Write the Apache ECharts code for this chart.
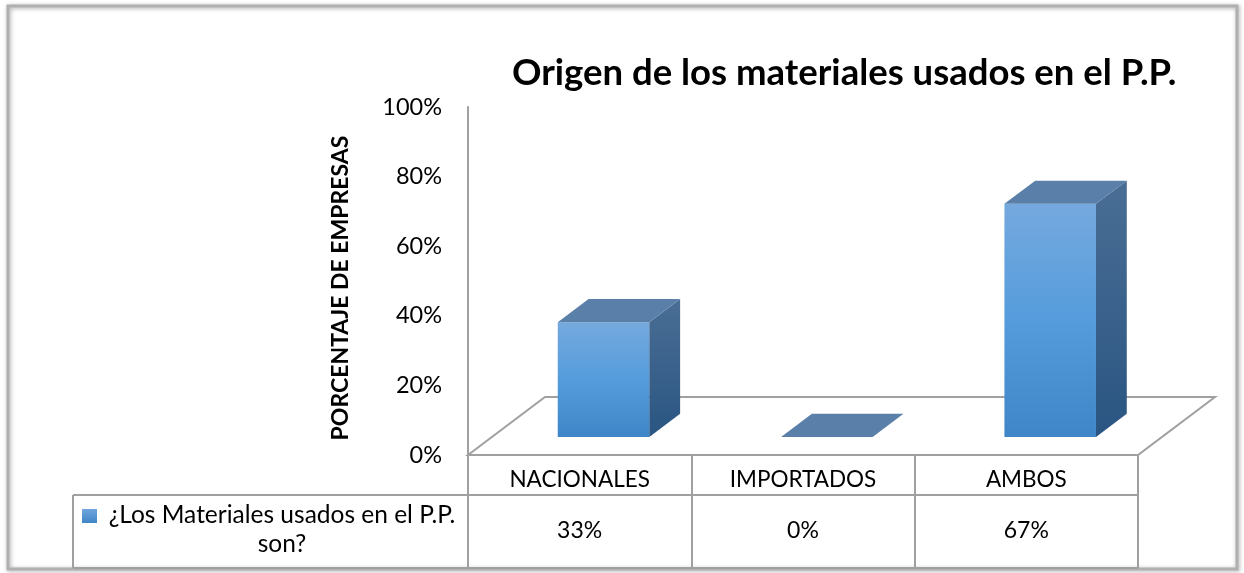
<!DOCTYPE html>
<html>
<head>
<meta charset="utf-8">
<script src="https://cdn.jsdelivr.net/npm/echarts@6/dist/echarts.min.js"></script>
<style>
  html, body { margin: 0; padding: 0; background: #fff; }
  #chart { width: 1244px; height: 573px; }
</style>
</head>
<body>
<div id="chart"></div>
<script>
var categories = ['NACIONALES', 'IMPORTADOS', 'AMBOS'];
var values = [33, 0, 67];
var valueLabels = ['33%', '0%', '67%'];
var seriesName = '¿Los Materiales usados en el P.P. son?';
var titleText = 'Origen de los materiales usados en el P.P.';
var yName = 'PORCENTAJE DE EMPRESAS';

var FONT = 'Lato, "Open Sans", sans-serif';
var LINE = '#a0a0a0';
// piso 3D (estilo Excel)
var FLOOR_DX = 77, FLOOR_DY = 58;
var BAR_T = 0.31, BAR_D = 0.4, BAR_W = 0.41;

var chart = echarts.init(document.getElementById('chart'));

var frontGrad = new echarts.graphic.LinearGradient(0, 0, 0, 1, [
  { offset: 0, color: '#75a9de' },
  { offset: 0.5, color: '#559cdc' },
  { offset: 1, color: '#3f86c8' }
]);
var sideGrad = new echarts.graphic.LinearGradient(0, 0, 0, 1, [
  { offset: 0, color: '#4a6e95' },
  { offset: 1, color: '#2a5582' }
]);

function renderFloor(params, api) {
  var cs = params.coordSys;
  var x0 = cs.x, x1 = cs.x + cs.width, yb = cs.y + cs.height;
  return {
    type: 'polygon',
    shape: { points: [[x0, yb], [x0 + FLOOR_DX, yb - FLOOR_DY], [x1 + FLOOR_DX, yb - FLOOR_DY], [x1, yb]] },
    style: { fill: 'none', stroke: LINE, lineWidth: 2 }
  };
}

function renderBar(params, api) {
  var base = api.coord([api.value(0), 0]);
  var top = api.coord([api.value(0), api.value(1)]);
  var band = api.size([1, 0])[0];
  var w = band * BAR_W;
  var ox = FLOOR_DX * BAR_T, oy = FLOOR_DY * BAR_T;
  var dx = FLOOR_DX * BAR_D, dy = FLOOR_DY * BAR_D;
  var xl = base[0] + ox - w / 2, xr = xl + w;
  var yb = base[1] - oy, yt = yb - (base[1] - top[1]);
  var children = [];
  if (yb - yt > 0.5) {
    children.push({ type: 'rect', shape: { x: xl, y: yt, width: w, height: yb - yt }, style: { fill: frontGrad } });
    children.push({ type: 'polygon', shape: { points: [[xr, yt], [xr + dx, yt - dy], [xr + dx, yb - dy], [xr, yb]] }, style: { fill: sideGrad } });
  }
  children.push({ type: 'polygon', shape: { points: [[xl, yt], [xl + dx, yt - dy], [xr + dx, yt - dy], [xr, yt]] }, style: { fill: '#5a7fa8' } });
  return { type: 'group', children: children };
}

var option = {
  backgroundColor: '#fff',
  animation: false,
  title: {
    text: titleText,
    left: 507, top: 50,
    textStyle: { fontFamily: FONT, fontSize: 36.5, fontWeight: 'bold', color: '#000' }
  },
  grid: { left: 468, right: 106, top: 107, bottom: 118 },
  xAxis: [{
    type: 'category',
    data: categories,
    position: 'bottom',
    axisLine: { show: false },
    axisTick: { show: true, interval: 0, length: 113, lineStyle: { color: LINE, width: 2 } },
    axisLabel: { margin: 13, fontFamily: FONT, fontSize: 22.5, color: '#000' },
    splitLine: { show: false }
  }, {
    type: 'category',
    data: valueLabels,
    position: 'bottom',
    axisLine: { show: false },
    axisTick: { show: false },
    axisLabel: { margin: 64, fontFamily: FONT, fontSize: 23, color: '#000' },
    splitLine: { show: false }
  }],
  yAxis: {
    type: 'value',
    min: 0, max: 100, interval: 20,
    name: yName,
    nameLocation: 'middle',
    nameGap: 116,
    nameTextStyle: { fontFamily: FONT, fontSize: 23, fontWeight: 'bold', color: '#000', padding: [0, 14, 0, 0] },
    axisLine: { show: true, lineStyle: { color: LINE, width: 2 } },
    axisTick: { show: false },
    axisLabel: { formatter: '{value}%', margin: 26, fontFamily: FONT, fontSize: 23.5, color: '#000' },
    splitLine: { show: false }
  },
  series: [{
    type: 'custom',
    name: 'floor',
    renderItem: renderFloor,
    data: [[0, 0]],
    z: 1,
    silent: true
  }, {
    type: 'custom',
    name: seriesName,
    renderItem: renderBar,
    encode: { x: 0, y: 1 },
    data: values.map(function (v, i) { return [i, v]; }),
    z: 3
  }],
  graphic: [
    // marco del gráfico
    { type: 'rect', shape: { x: 8, y: 6, width: 1229, height: 563 }, style: { fill: 'none', stroke: '#b0b0b0', lineWidth: 3, shadowBlur: 4, shadowColor: 'rgba(0,0,0,0.35)', shadowOffsetX: 1, shadowOffsetY: 1 }, z: 0 },
    // tabla de datos
    { type: 'line', shape: { x1: 73, y1: 495, x2: 1138, y2: 495 }, style: { stroke: LINE, lineWidth: 2 } },
    { type: 'line', shape: { x1: 73, y1: 495, x2: 73, y2: 568 }, style: { stroke: LINE, lineWidth: 2 } },
    { type: 'line', shape: { x1: 73, y1: 568, x2: 1138, y2: 568 }, style: { stroke: LINE, lineWidth: 2 } },
    { type: 'rect', shape: { x: 82, y: 509, width: 15, height: 14 }, style: { fill: new echarts.graphic.LinearGradient(0, 0, 0, 1, [{ offset: 0, color: '#6fa6dd' }, { offset: 1, color: '#3f86c8' }]) } },
    { type: 'text', x: 282, y: 501, style: { text: seriesName.replace(' son?', '\nson?'), align: 'center', verticalAlign: 'top', lineHeight: 29, fontFamily: FONT, fontSize: 24.5, fill: '#000' } }
  ]
};

chart.setOption(option);
</script>
</body>
</html>
